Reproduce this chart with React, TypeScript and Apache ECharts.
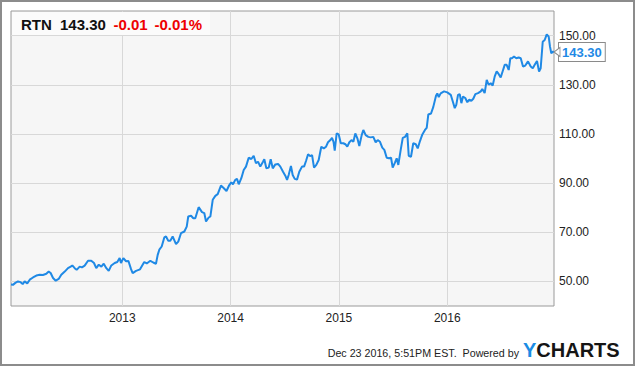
import React, { useEffect, useRef } from 'react';
import * as echarts from 'echarts';

const ticker = 'RTN';
const lastPrice = 143.3;
const change = -0.01;
const changePct = -0.01;
const stampText = 'Dec 23 2016, 5:51PM EST.  Powered by';
const xTicks = [2013, 2014, 2015, 2016];
const yTicks = [50, 70, 90, 110, 130, 150];

// fractional years
const years = [
  2011.973, 2011.991, 2012.013, 2012.037, 2012.062, 2012.081, 2012.099, 2012.123, 2012.146, 2012.176,
  2012.207, 2012.238, 2012.268, 2012.299, 2012.321, 2012.339, 2012.361, 2012.386, 2012.413, 2012.437,
  2012.469, 2012.499, 2012.524, 2012.539, 2012.561, 2012.579, 2012.607, 2012.628, 2012.653, 2012.684,
  2012.714, 2012.739, 2012.760, 2012.783, 2012.807, 2012.829, 2012.853, 2012.875, 2012.899, 2012.930,
  2012.954, 2012.976, 2012.988, 2013.010, 2013.035, 2013.057, 2013.081, 2013.096, 2013.127, 2013.164,
  2013.203, 2013.226, 2013.259, 2013.286, 2013.311, 2013.327, 2013.342, 2013.364, 2013.388, 2013.404,
  2013.425, 2013.443, 2013.465, 2013.496, 2013.517, 2013.542, 2013.573, 2013.595, 2013.609, 2013.635,
  2013.656, 2013.674, 2013.705, 2013.736, 2013.757, 2013.773, 2013.798, 2013.813, 2013.835, 2013.859,
  2013.881, 2013.911, 2013.933, 2013.962, 2013.988, 2014.006, 2014.022, 2014.043, 2014.059, 2014.075,
  2014.099, 2014.121, 2014.142, 2014.167, 2014.191, 2014.213, 2014.234, 2014.253, 2014.274, 2014.299,
  2014.311, 2014.330, 2014.352, 2014.370, 2014.389, 2014.413, 2014.438, 2014.459, 2014.484, 2014.505,
  2014.521, 2014.536, 2014.557, 2014.573, 2014.592, 2014.613, 2014.634, 2014.659, 2014.678, 2014.696,
  2014.715, 2014.733, 2014.752, 2014.770, 2014.791, 2014.813, 2014.837, 2014.860, 2014.881, 2014.899,
  2014.921, 2014.936, 2014.950, 2014.961, 2014.979, 2014.998, 2015.017, 2015.041, 2015.059, 2015.077,
  2015.096, 2015.118, 2015.133, 2015.151, 2015.170, 2015.188, 2015.210, 2015.225, 2015.247, 2015.271,
  2015.293, 2015.317, 2015.339, 2015.358, 2015.379, 2015.400, 2015.419, 2015.441, 2015.462, 2015.481,
  2015.496, 2015.517, 2015.533, 2015.548, 2015.570, 2015.589, 2015.610, 2015.631, 2015.644, 2015.665,
  2015.686, 2015.709, 2015.727, 2015.748, 2015.770, 2015.794, 2015.810, 2015.825, 2015.850, 2015.871,
  2015.896, 2015.908, 2015.921, 2015.939, 2015.970, 2016.000, 2016.032, 2016.053, 2016.069, 2016.083,
  2016.099, 2016.115, 2016.130, 2016.145, 2016.166, 2016.185, 2016.203, 2016.222, 2016.240, 2016.259,
  2016.284, 2016.309, 2016.323, 2016.345, 2016.364, 2016.382, 2016.401, 2016.419, 2016.438, 2016.456,
  2016.475, 2016.493, 2016.512, 2016.530, 2016.548, 2016.567, 2016.582, 2016.597, 2016.616, 2016.637,
  2016.659, 2016.678, 2016.699, 2016.720, 2016.745, 2016.770, 2016.789, 2016.807, 2016.828, 2016.847,
  2016.862, 2016.881, 2016.899, 2016.918, 2016.936, 2016.948, 2016.960, 2016.976, 2016.985,
];

const prices = [
  48.7, 48.6, 49.4, 50.0, 49.7, 48.9, 50.0, 49.2, 50.7, 51.6,
  52.4, 52.7, 52.6, 53.1, 54.0, 53.4, 51.4, 50.3, 51.0, 52.7,
  54.0, 55.4, 56.0, 56.5, 55.4, 54.7, 56.0, 55.7, 56.4, 58.4,
  58.4, 57.5, 55.4, 56.8, 56.0, 57.2, 55.4, 54.3, 56.5, 57.5,
  57.9, 59.5, 57.5, 59.5, 58.2, 58.3, 55.0, 53.4, 54.3, 54.9,
  57.9, 57.3, 58.4, 57.7, 57.2, 60.8, 62.9, 64.2, 67.9, 68.3,
  66.5, 66.5, 68.3, 65.2, 66.2, 69.6, 70.3, 72.3, 76.4, 76.7,
  75.7, 75.7, 80.2, 78.2, 77.8, 74.4, 76.0, 76.4, 83.2, 84.8,
  85.5, 89.0, 88.1, 86.8, 89.2, 90.3, 89.5, 91.3, 91.7, 89.5,
  92.0, 95.3, 96.7, 100.3, 99.8, 101.1, 98.1, 98.7, 96.7, 98.7,
  99.7, 96.0, 96.3, 99.7, 96.0, 97.6, 97.8, 96.7, 94.6, 93.0,
  91.3, 93.3, 97.0, 93.3, 91.7, 91.4, 94.6, 96.7, 96.7, 99.0,
  101.7, 101.0, 101.4, 96.3, 97.4, 99.4, 104.8, 104.1, 104.8, 106.6,
  107.5, 108.4, 106.8, 103.2, 110.2, 109.8, 106.2, 106.2, 105.8, 104.8,
  106.6, 107.5, 106.8, 110.2, 108.2, 105.1, 109.5, 111.6, 109.5, 108.8,
  108.6, 108.8, 106.6, 107.5, 106.8, 104.4, 103.5, 100.3, 100.1, 100.3,
  96.3, 98.3, 100.1, 97.4, 103.5, 108.4, 108.8, 110.2, 101.1, 100.7,
  106.2, 105.8, 104.1, 107.1, 109.8, 111.6, 112.5, 117.9, 118.3, 121.0,
  125.5, 126.5, 125.0, 126.5, 127.3, 126.9, 125.9, 122.9, 120.5, 121.8,
  125.9, 126.2, 122.5, 125.2, 124.6, 122.9, 123.9, 123.5, 124.3, 126.2,
  126.6, 127.3, 128.3, 126.6, 132.0, 130.0, 130.6, 129.7, 133.4, 135.4,
  134.3, 133.0, 135.6, 138.1, 138.1, 136.0, 140.8, 140.8, 141.5, 140.8,
  141.1, 140.8, 137.4, 137.8, 139.5, 137.4, 136.7, 138.1, 139.7, 135.4,
  136.7, 147.5, 148.2, 150.5, 149.6, 145.5, 142.8, 143.5, 143.3,
];

const FONT = '"Liberation Sans", Arial, Helvetica, sans-serif';
const LINE_BLUE = '#1f89e5';

export default function App() {
  const ref = useRef<HTMLDivElement>(null);

  useEffect(() => {
    if (!ref.current) return;
    const chart = echarts.init(ref.current, null, { renderer: 'svg' });
    const data = years.map((t, i) => [t, prices[i]]);
    const last = data[data.length - 1];

    chart.setOption({
      animation: false,
      backgroundColor: '#ffffff',
      grid: {
        left: 11,
        top: 11,
        right: 81,
        bottom: 60,
        show: true,
        backgroundColor: '#f6f6f6',
        borderColor: '#9a9a9a',
        borderWidth: 1,
        containLabel: false,
        outerBoundsMode: 'none',
      },
      xAxis: {
        type: 'value',
        min: 2011.973,
        max: 2016.985,
        axisLine: { show: false },
        axisTick: { show: false, customValues: xTicks },
        axisLabel: {
          customValues: xTicks,
          formatter: (v: number) => String(Math.round(v)),
          color: '#222',
          fontSize: 12,
          fontFamily: FONT,
          margin: 6,
        },
        splitLine: { show: true, lineStyle: { color: '#d8d8d8', width: 1 } },
      },
      yAxis: {
        type: 'value',
        position: 'right',
        min: 40,
        max: 160,
        axisLine: { show: false },
        axisTick: { show: false, customValues: yTicks },
        axisLabel: {
          customValues: yTicks,
          formatter: (v: number) => v.toFixed(2),
          color: '#222',
          fontSize: 12,
          fontFamily: FONT,
          margin: 5,
          align: 'left',
        },
        splitLine: { show: true, lineStyle: { color: '#d8d8d8', width: 1 } },
      },
      series: [
        {
          type: 'line',
          data,
          showSymbol: false,
          symbol: 'none',
          lineStyle: { color: LINE_BLUE, width: 2 },
          z: 3,
          endLabel: {
            show: true,
            formatter: (p: any) => Number(p.value[1]).toFixed(2),
            color: LINE_BLUE,
            fontWeight: 'bold',
            fontSize: 13,
            fontFamily: FONT,
            backgroundColor: '#ffffff',
            borderColor: '#8a8a8a',
            borderWidth: 1,
            padding: [3, 3, 2, 3],
            distance: 5,
          },
          markPoint: {
            silent: true,
            symbol: 'path://M0,5L6,0L6,10Z',
            symbolSize: [6, 9],
            symbolOffset: [3, 0],
            itemStyle: { color: '#ffffff', borderColor: '#8a8a8a', borderWidth: 1 },
            label: { show: false },
            data: [{ coord: last }],
          },
        },
      ],
      graphic: [
        {
          type: 'rect',
          silent: true,
          z: 10,
          shape: { x: 12, y: 12, width: 198, height: 23 },
          style: { fill: '#fbfbfb' },
        },
        {
          type: 'text',
          z: 11,
          x: 21,
          y: 24,
          style: { text: ticker, fill: '#111', font: `bold 15px ${FONT}`, textVerticalAlign: 'middle' },
        },
        {
          type: 'text',
          z: 11,
          x: 60,
          y: 24,
          style: { text: lastPrice.toFixed(2), fill: '#111', font: `bold 15px ${FONT}`, textVerticalAlign: 'middle' },
        },
        {
          type: 'text',
          z: 11,
          x: 113.5,
          y: 24,
          style: { text: change.toFixed(2), fill: '#ee0000', font: `bold 15px ${FONT}`, textVerticalAlign: 'middle' },
        },
        {
          type: 'text',
          z: 11,
          x: 154.5,
          y: 24,
          style: { text: changePct.toFixed(2) + '%', fill: '#ee0000', font: `bold 15px ${FONT}`, textVerticalAlign: 'middle' },
        },
        {
          type: 'text',
          z: 11,
          x: 519,
          y: 353,
          style: {
            text: stampText,
            fill: '#222',
            font: `10.7px ${FONT}`,
            textAlign: 'right',
            textVerticalAlign: 'middle',
          },
        },
        {
          type: 'text',
          z: 11,
          x: 523,
          y: 350,
          style: {
            text: '{y|Y}{c|CHARTS}',
            textVerticalAlign: 'middle',
            rich: {
              y: { fill: '#1a8ce4', fontSize: 20, fontWeight: 'bold', fontFamily: FONT },
              c: { fill: '#151515', fontSize: 20, fontWeight: 'bold', fontFamily: FONT },
            },
          },
        },
        {
          type: 'rect',
          silent: true,
          z: 20,
          shape: { x: 1, y: 1, width: 633, height: 364 },
          style: { fill: 'none', stroke: '#8c8c8c', lineWidth: 2 },
        },
      ],
    });

    return () => chart.dispose();
  }, []);

  return (
    <div
      ref={ref}
      style={{ position: 'fixed', left: 0, top: 0, width: 635, height: 366 }}
    />
  );
}
